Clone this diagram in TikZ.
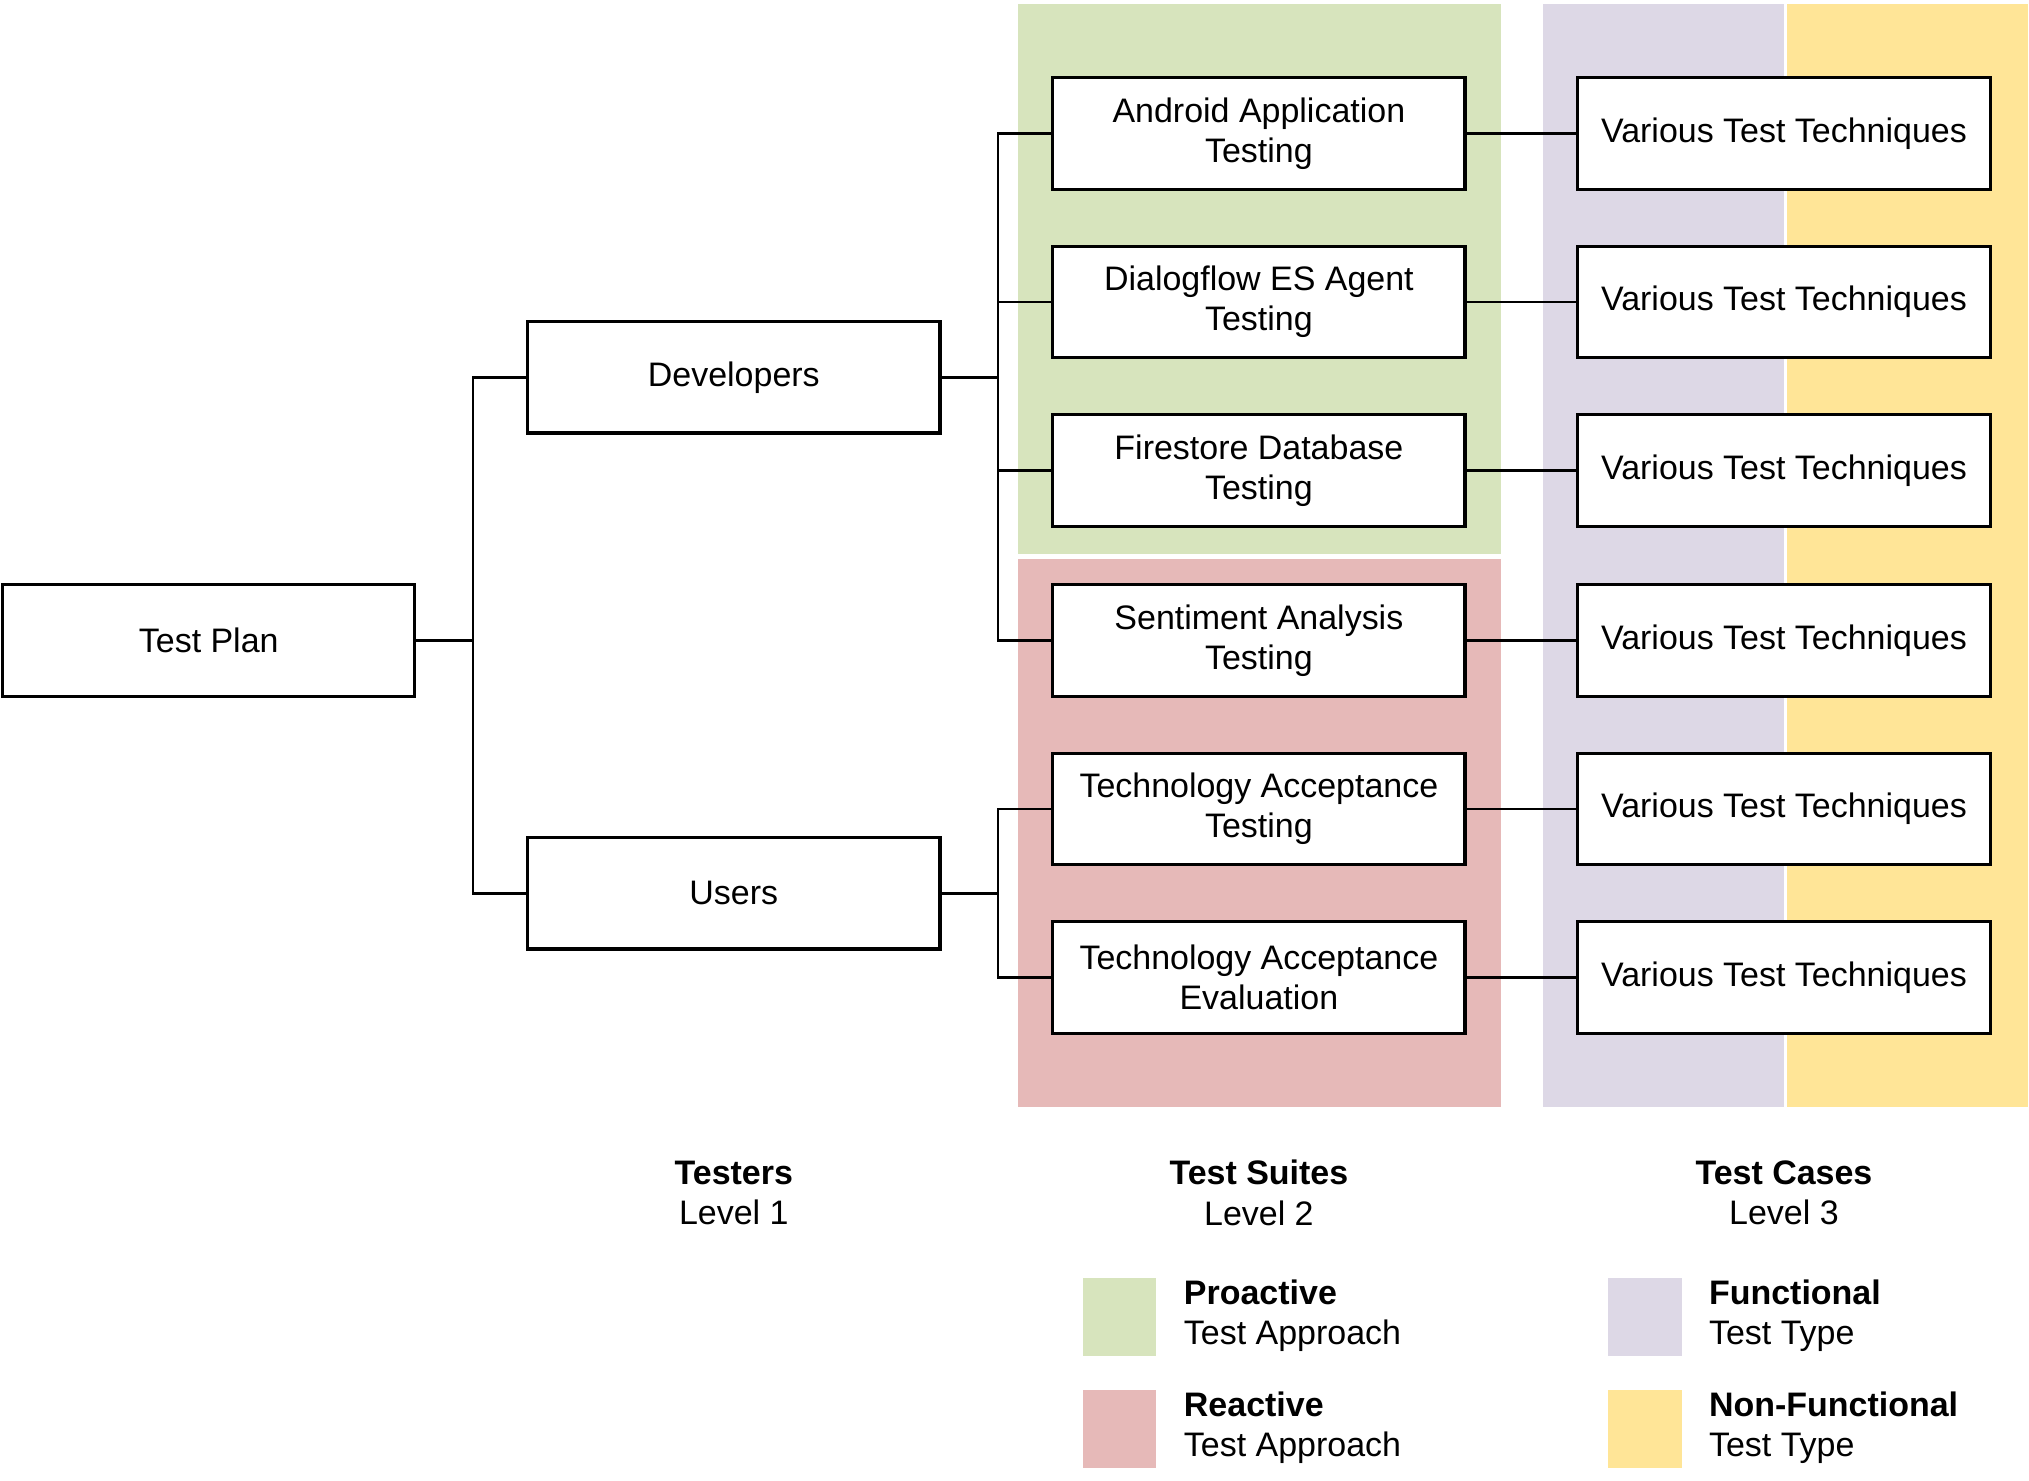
\documentclass[tikz,border=0pt]{standalone}
\usepackage{fontspec}
\setmainfont{Liberation Sans}
\definecolor{proactive}{HTML}{D7E4BD}
\definecolor{reactive}{HTML}{E6B9B8}
\definecolor{functional}{HTML}{DDD8E6}
\definecolor{nonfunctional}{HTML}{FFE597}
\tikzset{
  testbox/.style={draw, fill=white, line width=2.4pt, minimum width=318pt, minimum height=86pt, align=center, inner sep=2pt},
  link/.style={line width=2pt},
  levellabel/.style={align=center, inner sep=0pt},
  legendtext/.style={align=left, anchor=west, inner sep=0pt}
}
\begin{document}
\begin{tikzpicture}[x=1pt, y=-1pt, font=\fontsize{26.2}{31}\selectfont]
            \useasboundingbox (0,0) rectangle (1565,1142);

            \fill[proactive] (785,3) rectangle (1158,427);
            \fill[reactive] (785,431) rectangle (1158,854);
            \fill[functional] (1190,3) rectangle (1376,854);
            \fill[nonfunctional] (1378,3) rectangle (1564,854);

            \node[testbox] (plan) at (161,494) {Test Plan};
            \node[testbox] (dev) at (566,291) {Developers};
            \node[testbox] (usr) at (566,689) {Users};

            \node[testbox] (s1) at (971,103) {Android Application\\Testing};
            \node[testbox] (s2) at (971,233) {Dialogflow ES Agent\\Testing};
            \node[testbox] (s3) at (971,363) {Firestore Database\\Testing};
            \node[testbox] (s4) at (971,494) {Sentiment Analysis\\Testing};
            \node[testbox] (s5) at (971,624) {Technology Acceptance\\Testing};
            \node[testbox] (s6) at (971,754) {Technology Acceptance\\Evaluation};

            \foreach \i/\y in {1/103,2/233,3/363,4/494,5/624,6/754}
                \node[testbox] (c\i) at (1376,\y) {Various Test Techniques};

            \draw[link] (plan.east) -- ++(43.5,0) |- (dev.west);
            \draw[link] (plan.east) -- ++(43.5,0) |- (usr.west);
            \foreach \s in {s1,s2,s3,s4}
                \draw[link] (dev.east) -- ++(43.5,0) |- (\s.west);
            \foreach \s in {s5,s6}
                \draw[link] (usr.east) -- ++(43.5,0) |- (\s.west);
            \foreach \i in {1,...,6}
                \draw[link] (s\i.east) -- (c\i.west);

            \node[levellabel] (lvl1) at (566,920) {\textbf{Testers}\\Level 1};
            \node[levellabel] (lvl2) at (971,920) {\textbf{Test Suites}\\Level 2};
            \node[levellabel] (lvl3) at (1376,920) {\textbf{Test Cases}\\Level 3};

            \fill[proactive] (835,986) rectangle (892,1046);
            \fill[reactive] (835,1072) rectangle (892,1132);
            \fill[functional] (1240,986) rectangle (1297,1046);
            \fill[nonfunctional] (1240,1072) rectangle (1297,1132);

            \node[legendtext] (pro) at (913,1015) {\textbf{Proactive}\\Test Approach};
            \node[legendtext] (rea) at (913,1101) {\textbf{Reactive}\\Test Approach};
            \node[legendtext] (fun) at (1318,1015) {\textbf{Functional}\\Test Type};
            \node[legendtext] (nfu) at (1318,1101) {\textbf{Non-Functional}\\Test Type};
        \end{tikzpicture}
\end{document}
